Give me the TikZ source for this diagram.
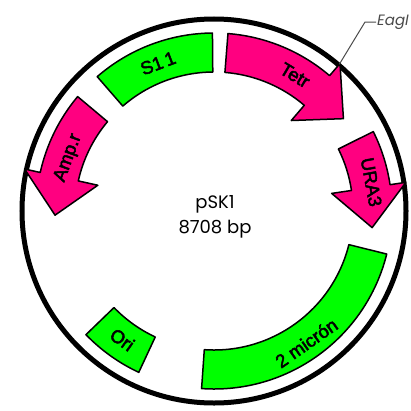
\documentclass[tikz,border=0pt]{standalone}
\usepackage{fontspec}
\setmainfont{Poppins}
\newfontfamily\labelfont[FakeBold=2.5]{Liberation Sans}
\definecolor{Gene}{HTML}{00FF00}
\definecolor{Marker}{HTML}{FF0080}
\definecolor{Muted}{HTML}{4A4A4A}
% box on the ring: start angle, end angle, colour
\newcommand{\genebox}[3]{\filldraw[feat,fill=#3](#1:\ri)arc[start angle=#1,end angle=#2,radius=\ri]--(#2:\ro)arc[start angle=#2,end angle=#1,radius=\ro]--cycle;}
% arrow on the ring: start angle, end of body, tip
\newcommand{\genearrow}[3]{\filldraw[feat,fill=Marker](#1:\ri)arc[start angle=#1,end angle=#2,radius=\ri]--(#2:\hi)--(#3:\rt)--(#2:\ho)--(#2:\ro)arc[start angle=#2,end angle=#1,radius=\ro]--cycle;}

\begin{document}
\begin{tikzpicture}[x=1pt,y=1pt,
    feat/.style={draw=black,line width=1.5pt,line join=round},
    featlabel/.style={font=\labelfont\fontsize{18.5}{20}\selectfont,inner sep=0pt}]
        \useasboundingbox (-214,-199) rectangle (197,211);
        \def\ri{139}\def\ro{178}\def\hi{119}\def\ho{194}\def\rt{159}
        \draw[line width=5pt] (0,0) circle[radius=192];
        \genebox{90.5}{131}{Gene}
        \genebox{224}{245}{Gene}
        \genebox{-14}{-94}{Gene}
        \genearrow{85.5}{49.5}{35.5}
        \genearrow{26.5}{8.5}{-6}
        \genearrow{140}{167.5}{181.5}
        \node[featlabel,rotate=20.75] (s11) at (110.75:158) {S1\,1};
        \node[featlabel,rotate=-30.8] (tetr) at (59.2:158) {Tetr};
        \node[featlabel,rotate=-79.6] (ura3) at (10.4:160) {URA3};
        \node[featlabel,rotate=70] (ampr) at (160:155) {Amp.r};
        \node[featlabel,rotate=-35.5] (ori) at (234.5:158) {Ori};
        \node[featlabel,rotate=35] (micron) at (305:161) {2 micrón};
        \node[align=center,font=\fontsize{18}{25}\selectfont] (title) at (1,-6) {pSK1\\8708 bp};
        % EagI site
        \coordinate (eagsite) at (49.5:193);
        \node[anchor=west,Muted,font=\fontsize{15}{18}\selectfont\itshape,inner sep=1pt] (eagl) at (162,189) {EagI};
        \draw[Muted,line width=1pt] (eagsite) -- (151,189) -- (eagl.west);
      \end{tikzpicture}
\end{document}
